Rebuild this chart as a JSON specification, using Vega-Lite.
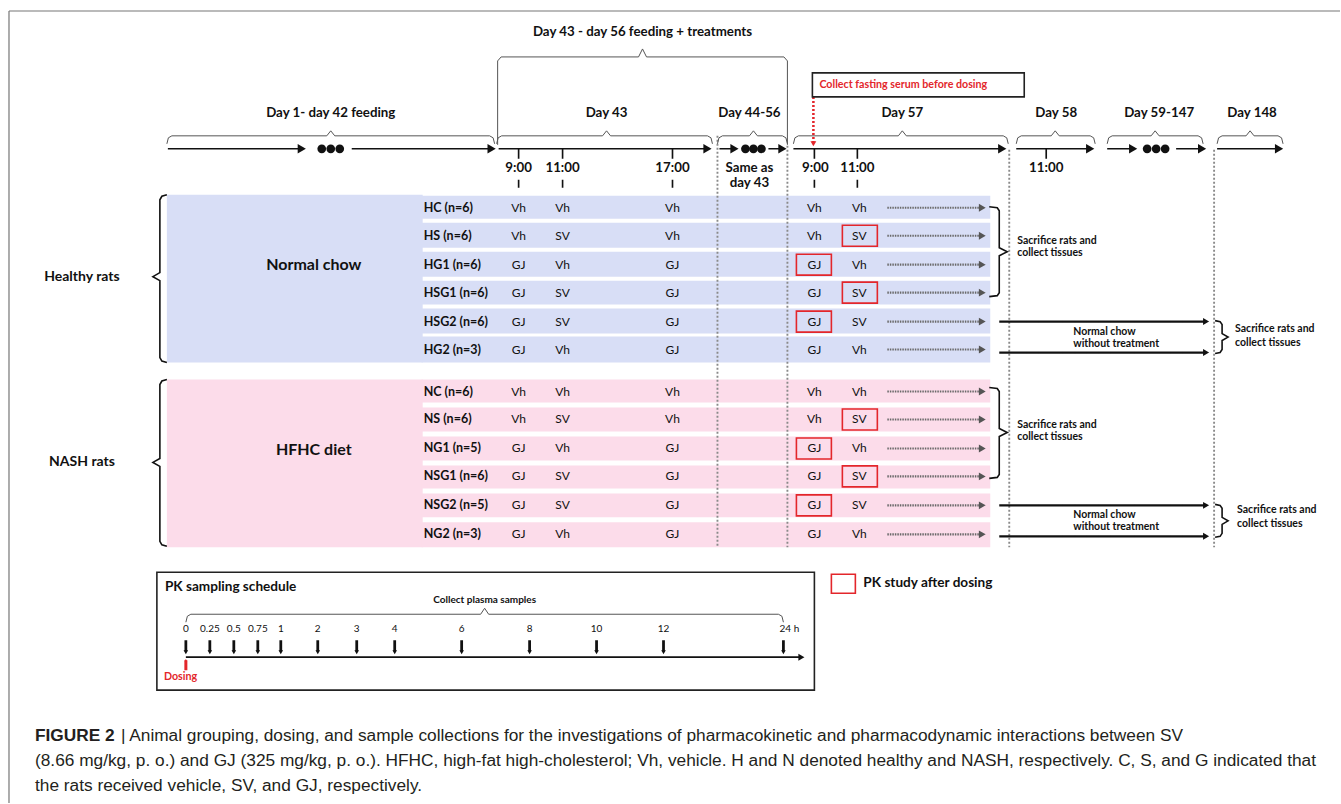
{
"$schema":"https://vega.github.io/schema/vega-lite/v6.json",
"width":1341,"height":804,"padding":0,
"autosize":{"type":"fit","contains":"padding"},
"background":"#ffffff",
"config":{"view":{"stroke":null}},
"datasets":{
"bg":[
{"x":167,"x2":423,"y":195,"y2":363,"g":"h"},
{"x":422,"x2":991,"y":196,"y2":219,"g":"h"},
{"x":422,"x2":991,"y":223,"y2":248,"g":"h"},
{"x":422,"x2":991,"y":252,"y2":277,"g":"h"},
{"x":422,"x2":991,"y":281,"y2":305,"g":"h"},
{"x":422,"x2":991,"y":309,"y2":334,"g":"h"},
{"x":422,"x2":991,"y":337,"y2":363,"g":"h"},
{"x":167,"x2":423,"y":380,"y2":548,"g":"n"},
{"x":422,"x2":991,"y":380,"y2":403,"g":"n"},
{"x":422,"x2":991,"y":408,"y2":432,"g":"n"},
{"x":422,"x2":991,"y":437,"y2":461,"g":"n"},
{"x":422,"x2":991,"y":466,"y2":489,"g":"n"},
{"x":422,"x2":991,"y":494,"y2":518,"g":"n"},
{"x":422,"x2":991,"y":523,"y2":548,"g":"n"}
],
"lines":[
{"x":9,"x2":1341,"y":11,"y2":11,"k":"frame"},
{"x":9,"x2":9,"y":11,"y2":804,"k":"frame"},
{"x":168,"x2":302,"y":149,"y2":149,"k":"thick"},
{"x":352,"x2":492,"y":149,"y2":149,"k":"thick"},
{"x":499,"x2":708,"y":149,"y2":149,"k":"thick"},
{"x":720,"x2":735,"y":149,"y2":149,"k":"thick"},
{"x":769,"x2":783,"y":149,"y2":149,"k":"thick"},
{"x":794,"x2":1003,"y":149,"y2":149,"k":"thick"},
{"x":1017,"x2":1091,"y":149,"y2":149,"k":"thick"},
{"x":1108,"x2":1134,"y":149,"y2":149,"k":"thick"},
{"x":1177,"x2":1203,"y":149,"y2":149,"k":"thick"},
{"x":1218,"x2":1280,"y":149,"y2":149,"k":"thick"},
{"x":519,"x2":519,"y":149,"y2":159,"k":"tick"},
{"x":563,"x2":563,"y":149,"y2":159,"k":"tick"},
{"x":673,"x2":673,"y":149,"y2":159,"k":"tick"},
{"x":815,"x2":815,"y":149,"y2":159,"k":"tick"},
{"x":858,"x2":858,"y":149,"y2":159,"k":"tick"},
{"x":1047,"x2":1047,"y":149,"y2":159,"k":"tick"},
{"x":519,"x2":519,"y":180,"y2":188,"k":"tick"},
{"x":563,"x2":563,"y":180,"y2":188,"k":"tick"},
{"x":673,"x2":673,"y":180,"y2":188,"k":"tick"},
{"x":815,"x2":815,"y":180,"y2":188,"k":"tick"},
{"x":858,"x2":858,"y":180,"y2":188,"k":"tick"},
{"x":718,"x2":718,"y":136,"y2":548,"k":"guide"},
{"x":788,"x2":788,"y":146,"y2":548,"k":"guide"},
{"x":1010,"x2":1010,"y":150,"y2":548,"k":"guide"},
{"x":1215,"x2":1215,"y":150,"y2":548,"k":"guide"},
{"x":888,"x2":982,"y":208,"y2":208,"k":"flow"},
{"x":888,"x2":982,"y":236,"y2":236,"k":"flow"},
{"x":888,"x2":982,"y":265,"y2":265,"k":"flow"},
{"x":888,"x2":982,"y":293,"y2":293,"k":"flow"},
{"x":888,"x2":982,"y":322,"y2":322,"k":"flow"},
{"x":888,"x2":982,"y":350,"y2":350,"k":"flow"},
{"x":888,"x2":982,"y":392,"y2":392,"k":"flow"},
{"x":888,"x2":982,"y":420,"y2":420,"k":"flow"},
{"x":888,"x2":982,"y":449,"y2":449,"k":"flow"},
{"x":888,"x2":982,"y":477,"y2":477,"k":"flow"},
{"x":888,"x2":982,"y":506,"y2":506,"k":"flow"},
{"x":888,"x2":982,"y":535,"y2":535,"k":"flow"},
{"x":1000,"x2":1207,"y":322,"y2":322,"k":"solid"},
{"x":1000,"x2":1207,"y":353,"y2":353,"k":"solid"},
{"x":1000,"x2":1207,"y":506,"y2":506,"k":"solid"},
{"x":1000,"x2":1207,"y":537,"y2":537,"k":"solid"},
{"x":814,"x2":814,"y":97,"y2":143,"k":"reddot"},
{"x":186,"x2":802,"y":658,"y2":658,"k":"tick"},
{"x":186,"x2":186,"y":641,"y2":652,"k":"pk"},
{"x":210,"x2":210,"y":641,"y2":652,"k":"pk"},
{"x":234,"x2":234,"y":641,"y2":652,"k":"pk"},
{"x":258,"x2":258,"y":641,"y2":652,"k":"pk"},
{"x":281,"x2":281,"y":641,"y2":652,"k":"pk"},
{"x":318,"x2":318,"y":641,"y2":652,"k":"pk"},
{"x":357,"x2":357,"y":641,"y2":652,"k":"pk"},
{"x":395,"x2":395,"y":641,"y2":652,"k":"pk"},
{"x":462,"x2":462,"y":641,"y2":652,"k":"pk"},
{"x":530,"x2":530,"y":641,"y2":652,"k":"pk"},
{"x":597,"x2":597,"y":641,"y2":652,"k":"pk"},
{"x":664,"x2":664,"y":641,"y2":652,"k":"pk"},
{"x":784,"x2":784,"y":641,"y2":652,"k":"pk"},
{"x":186,"x2":186,"y":661,"y2":671,"k":"red"}
],
"pts":[
{"x":302,"y":149,"s":"r","k":"big"},
{"x":492,"y":149,"s":"r","k":"big"},
{"x":708,"y":149,"s":"r","k":"big"},
{"x":735,"y":149,"s":"r","k":"big"},
{"x":783,"y":149,"s":"r","k":"big"},
{"x":1003,"y":149,"s":"r","k":"big"},
{"x":1091,"y":149,"s":"r","k":"big"},
{"x":1134,"y":149,"s":"r","k":"big"},
{"x":1203,"y":149,"s":"r","k":"big"},
{"x":1280,"y":149,"s":"r","k":"big"},
{"x":322,"y":149,"s":"c","k":"dot"},
{"x":331,"y":149,"s":"c","k":"dot"},
{"x":340,"y":149,"s":"c","k":"dot"},
{"x":746,"y":149,"s":"c","k":"dot"},
{"x":754,"y":149,"s":"c","k":"dot"},
{"x":762,"y":149,"s":"c","k":"dot"},
{"x":1148,"y":149,"s":"c","k":"dot"},
{"x":1157,"y":149,"s":"c","k":"dot"},
{"x":1166,"y":149,"s":"c","k":"dot"},
{"x":983,"y":208,"s":"r","k":"small"},
{"x":983,"y":236,"s":"r","k":"small"},
{"x":983,"y":265,"s":"r","k":"small"},
{"x":983,"y":293,"s":"r","k":"small"},
{"x":983,"y":322,"s":"r","k":"small"},
{"x":983,"y":350,"s":"r","k":"small"},
{"x":983,"y":392,"s":"r","k":"small"},
{"x":983,"y":420,"s":"r","k":"small"},
{"x":983,"y":449,"s":"r","k":"small"},
{"x":983,"y":477,"s":"r","k":"small"},
{"x":983,"y":506,"s":"r","k":"small"},
{"x":983,"y":535,"s":"r","k":"small"},
{"x":1207,"y":322,"s":"r","k":"med"},
{"x":1207,"y":353,"s":"r","k":"med"},
{"x":1207,"y":506,"s":"r","k":"med"},
{"x":1207,"y":537,"s":"r","k":"med"},
{"x":802,"y":658,"s":"r","k":"med"},
{"x":814,"y":144,"s":"d","k":"reds"},
{"x":186,"y":653,"s":"d","k":"pkd"},
{"x":210,"y":653,"s":"d","k":"pkd"},
{"x":234,"y":653,"s":"d","k":"pkd"},
{"x":258,"y":653,"s":"d","k":"pkd"},
{"x":281,"y":653,"s":"d","k":"pkd"},
{"x":318,"y":653,"s":"d","k":"pkd"},
{"x":357,"y":653,"s":"d","k":"pkd"},
{"x":395,"y":653,"s":"d","k":"pkd"},
{"x":462,"y":653,"s":"d","k":"pkd"},
{"x":530,"y":653,"s":"d","k":"pkd"},
{"x":597,"y":653,"s":"d","k":"pkd"},
{"x":664,"y":653,"s":"d","k":"pkd"},
{"x":784,"y":653,"s":"d","k":"pkd"},
{"x":186,"y":661,"s":"u","k":"red"}
],
"braces":[
{"b":"b1","o":1,"x":167,"y":144,"k":"thin"},{"b":"b1","o":2,"x":168.5,"y":138,"k":"thin"},{"b":"b1","o":3,"x":172,"y":136,"k":"thin"},{"b":"b1","o":4,"x":327,"y":136,"k":"thin"},{"b":"b1","o":5,"x":331,"y":131,"k":"thin"},{"b":"b1","o":6,"x":335,"y":136,"k":"thin"},{"b":"b1","o":7,"x":490,"y":136,"k":"thin"},{"b":"b1","o":8,"x":493.5,"y":138,"k":"thin"},{"b":"b1","o":9,"x":495,"y":144,"k":"thin"},
{"b":"b2","o":1,"x":497,"y":144,"k":"thin"},{"b":"b2","o":2,"x":498.5,"y":138,"k":"thin"},{"b":"b2","o":3,"x":502,"y":136,"k":"thin"},{"b":"b2","o":4,"x":603,"y":136,"k":"thin"},{"b":"b2","o":5,"x":607,"y":131,"k":"thin"},{"b":"b2","o":6,"x":611,"y":136,"k":"thin"},{"b":"b2","o":7,"x":708,"y":136,"k":"thin"},{"b":"b2","o":8,"x":711.5,"y":138,"k":"thin"},{"b":"b2","o":9,"x":713,"y":144,"k":"thin"},
{"b":"b3","o":1,"x":718,"y":144,"k":"thin"},{"b":"b3","o":2,"x":719.5,"y":138,"k":"thin"},{"b":"b3","o":3,"x":723,"y":136,"k":"thin"},{"b":"b3","o":4,"x":750,"y":136,"k":"thin"},{"b":"b3","o":5,"x":754,"y":131,"k":"thin"},{"b":"b3","o":6,"x":758,"y":136,"k":"thin"},{"b":"b3","o":7,"x":783,"y":136,"k":"thin"},{"b":"b3","o":8,"x":786.5,"y":138,"k":"thin"},{"b":"b3","o":9,"x":788,"y":144,"k":"thin"},
{"b":"b4","o":1,"x":794,"y":144,"k":"thin"},{"b":"b4","o":2,"x":795.5,"y":138,"k":"thin"},{"b":"b4","o":3,"x":799,"y":136,"k":"thin"},{"b":"b4","o":4,"x":899,"y":136,"k":"thin"},{"b":"b4","o":5,"x":903,"y":131,"k":"thin"},{"b":"b4","o":6,"x":907,"y":136,"k":"thin"},{"b":"b4","o":7,"x":1004,"y":136,"k":"thin"},{"b":"b4","o":8,"x":1007.5,"y":138,"k":"thin"},{"b":"b4","o":9,"x":1009,"y":144,"k":"thin"},
{"b":"b5","o":1,"x":1017,"y":144,"k":"thin"},{"b":"b5","o":2,"x":1018.5,"y":138,"k":"thin"},{"b":"b5","o":3,"x":1022,"y":136,"k":"thin"},{"b":"b5","o":4,"x":1052,"y":136,"k":"thin"},{"b":"b5","o":5,"x":1056,"y":131,"k":"thin"},{"b":"b5","o":6,"x":1060,"y":136,"k":"thin"},{"b":"b5","o":7,"x":1091,"y":136,"k":"thin"},{"b":"b5","o":8,"x":1094.5,"y":138,"k":"thin"},{"b":"b5","o":9,"x":1096,"y":144,"k":"thin"},
{"b":"b6","o":1,"x":1108,"y":144,"k":"thin"},{"b":"b6","o":2,"x":1109.5,"y":138,"k":"thin"},{"b":"b6","o":3,"x":1113,"y":136,"k":"thin"},{"b":"b6","o":4,"x":1152,"y":136,"k":"thin"},{"b":"b6","o":5,"x":1156,"y":131,"k":"thin"},{"b":"b6","o":6,"x":1160,"y":136,"k":"thin"},{"b":"b6","o":7,"x":1199,"y":136,"k":"thin"},{"b":"b6","o":8,"x":1202.5,"y":138,"k":"thin"},{"b":"b6","o":9,"x":1204,"y":144,"k":"thin"},
{"b":"b7","o":1,"x":1218,"y":144,"k":"thin"},{"b":"b7","o":2,"x":1219.5,"y":138,"k":"thin"},{"b":"b7","o":3,"x":1223,"y":136,"k":"thin"},{"b":"b7","o":4,"x":1247,"y":136,"k":"thin"},{"b":"b7","o":5,"x":1251,"y":131,"k":"thin"},{"b":"b7","o":6,"x":1255,"y":136,"k":"thin"},{"b":"b7","o":7,"x":1279,"y":136,"k":"thin"},{"b":"b7","o":8,"x":1282.5,"y":138,"k":"thin"},{"b":"b7","o":9,"x":1284,"y":144,"k":"thin"},
{"b":"b8","o":1,"x":498,"y":145,"k":"thin"},{"b":"b8","o":2,"x":498,"y":61,"k":"thin"},{"b":"b8","o":3,"x":501.5,"y":57,"k":"thin"},{"b":"b8","o":4,"x":639,"y":57,"k":"thin"},{"b":"b8","o":5,"x":643,"y":49,"k":"thin"},{"b":"b8","o":6,"x":647,"y":57,"k":"thin"},{"b":"b8","o":7,"x":784.5,"y":57,"k":"thin"},{"b":"b8","o":8,"x":788,"y":61,"k":"thin"},{"b":"b8","o":9,"x":788,"y":145,"k":"thin"},
{"b":"b9","o":1,"x":186,"y":623,"k":"thin"},{"b":"b9","o":2,"x":187.5,"y":617,"k":"thin"},{"b":"b9","o":3,"x":191,"y":615,"k":"thin"},{"b":"b9","o":4,"x":481,"y":615,"k":"thin"},{"b":"b9","o":5,"x":485,"y":609,"k":"thin"},{"b":"b9","o":6,"x":489,"y":615,"k":"thin"},{"b":"b9","o":7,"x":779,"y":615,"k":"thin"},{"b":"b9","o":8,"x":782.5,"y":617,"k":"thin"},{"b":"b9","o":9,"x":784,"y":623,"k":"thin"},
{"b":"L1","o":1,"x":167,"y":195,"k":"bold"},{"b":"L1","o":2,"x":162,"y":196.5,"k":"bold"},{"b":"L1","o":3,"x":160,"y":200,"k":"bold"},{"b":"L1","o":4,"x":160,"y":273,"k":"bold"},{"b":"L1","o":5,"x":153,"y":277,"k":"bold"},{"b":"L1","o":6,"x":160,"y":281,"k":"bold"},{"b":"L1","o":7,"x":160,"y":358,"k":"bold"},{"b":"L1","o":8,"x":162,"y":361.5,"k":"bold"},{"b":"L1","o":9,"x":167,"y":363,"k":"bold"},
{"b":"L2","o":1,"x":167,"y":380,"k":"bold"},{"b":"L2","o":2,"x":162,"y":381.5,"k":"bold"},{"b":"L2","o":3,"x":160,"y":385,"k":"bold"},{"b":"L2","o":4,"x":160,"y":459,"k":"bold"},{"b":"L2","o":5,"x":153,"y":463,"k":"bold"},{"b":"L2","o":6,"x":160,"y":467,"k":"bold"},{"b":"L2","o":7,"x":160,"y":542,"k":"bold"},{"b":"L2","o":8,"x":162,"y":545.5,"k":"bold"},{"b":"L2","o":9,"x":167,"y":547,"k":"bold"},
{"b":"R1","o":1,"x":990,"y":207,"k":"bold"},{"b":"R1","o":2,"x":998,"y":208,"k":"bold"},{"b":"R1","o":3,"x":1000,"y":211,"k":"bold"},{"b":"R1","o":4,"x":1000,"y":248,"k":"bold"},{"b":"R1","o":5,"x":1008,"y":252,"k":"bold"},{"b":"R1","o":6,"x":1000,"y":256,"k":"bold"},{"b":"R1","o":7,"x":1000,"y":293,"k":"bold"},{"b":"R1","o":8,"x":998,"y":296,"k":"bold"},{"b":"R1","o":9,"x":990,"y":297,"k":"bold"},
{"b":"R2","o":1,"x":1216,"y":321,"k":"bold"},{"b":"R2","o":2,"x":1221,"y":322,"k":"bold"},{"b":"R2","o":3,"x":1223,"y":325,"k":"bold"},{"b":"R2","o":4,"x":1223,"y":334,"k":"bold"},{"b":"R2","o":5,"x":1229,"y":337.5,"k":"bold"},{"b":"R2","o":6,"x":1223,"y":341,"k":"bold"},{"b":"R2","o":7,"x":1223,"y":350,"k":"bold"},{"b":"R2","o":8,"x":1221,"y":353,"k":"bold"},{"b":"R2","o":9,"x":1216,"y":354,"k":"bold"},
{"b":"R3","o":1,"x":990,"y":388,"k":"bold"},{"b":"R3","o":2,"x":998,"y":389,"k":"bold"},{"b":"R3","o":3,"x":1000,"y":392,"k":"bold"},{"b":"R3","o":4,"x":1000,"y":429,"k":"bold"},{"b":"R3","o":5,"x":1008,"y":433,"k":"bold"},{"b":"R3","o":6,"x":1000,"y":437,"k":"bold"},{"b":"R3","o":7,"x":1000,"y":475,"k":"bold"},{"b":"R3","o":8,"x":998,"y":478,"k":"bold"},{"b":"R3","o":9,"x":990,"y":479,"k":"bold"},
{"b":"R4","o":1,"x":1216,"y":505,"k":"bold"},{"b":"R4","o":2,"x":1221,"y":506,"k":"bold"},{"b":"R4","o":3,"x":1223,"y":509,"k":"bold"},{"b":"R4","o":4,"x":1223,"y":518,"k":"bold"},{"b":"R4","o":5,"x":1229,"y":521.5,"k":"bold"},{"b":"R4","o":6,"x":1223,"y":525,"k":"bold"},{"b":"R4","o":7,"x":1223,"y":534,"k":"bold"},{"b":"R4","o":8,"x":1221,"y":537,"k":"bold"},{"b":"R4","o":9,"x":1216,"y":538,"k":"bold"}
],
"boxes":[
{"x":813,"x2":1025,"y":73,"y2":97,"k":"blk"},
{"x":157,"x2":815,"y":573,"y2":691,"k":"blk"},
{"x":843,"x2":878,"y":225.5,"y2":246.5,"k":"red"},
{"x":843,"x2":878,"y":282.5,"y2":303.5,"k":"red"},
{"x":797,"x2":832,"y":254.5,"y2":275.5,"k":"red"},
{"x":797,"x2":832,"y":311.5,"y2":332.5,"k":"red"},
{"x":843,"x2":878,"y":409.5,"y2":430.5,"k":"red"},
{"x":843,"x2":878,"y":466.5,"y2":487.5,"k":"red"},
{"x":797,"x2":832,"y":438.5,"y2":459.5,"k":"red"},
{"x":797,"x2":832,"y":495.5,"y2":516.5,"k":"red"},
{"x":832,"x2":856,"y":575,"y2":594,"k":"red"}
],
"txt":[
{"t":"Day 43 - day 56 feeding + treatments","x":643,"y":32,"r":"day"},
{"t":"Day 1- day 42 feeding","x":331,"y":113,"r":"day"},
{"t":"Day 43","x":607,"y":113,"r":"day"},
{"t":"Day 44-56","x":750,"y":113,"r":"day"},
{"t":"Day 57","x":903,"y":113,"r":"day"},
{"t":"Day 58","x":1057,"y":113,"r":"day"},
{"t":"Day 59-147","x":1160,"y":113,"r":"day"},
{"t":"Day 148","x":1253,"y":113,"r":"day"},
{"t":"9:00","x":519,"y":168,"r":"day"},
{"t":"11:00","x":563,"y":168,"r":"day"},
{"t":"17:00","x":673,"y":168,"r":"day"},
{"t":"Same as","x":750,"y":168,"r":"day"},
{"t":"day 43","x":750,"y":183,"r":"day"},
{"t":"9:00","x":816,"y":168,"r":"day"},
{"t":"11:00","x":858,"y":168,"r":"day"},
{"t":"11:00","x":1047,"y":168,"r":"day"},
{"t":"Healthy rats","x":82,"y":277,"r":"rat"},
{"t":"NASH rats","x":82,"y":463,"r":"rat"},
{"t":"HC (n=6)","x":424,"y":208,"r":"grp"},
{"t":"HS (n=6)","x":424,"y":236,"r":"grp"},
{"t":"HG1 (n=6)","x":424,"y":265,"r":"grp"},
{"t":"HSG1 (n=6)","x":424,"y":293,"r":"grp"},
{"t":"HSG2 (n=6)","x":424,"y":322,"r":"grp"},
{"t":"HG2 (n=3)","x":424,"y":350,"r":"grp"},
{"t":"NC (n=6)","x":424,"y":392,"r":"grp"},
{"t":"NS (n=6)","x":424,"y":420,"r":"grp"},
{"t":"NG1 (n=5)","x":424,"y":449,"r":"grp"},
{"t":"NSG1 (n=6)","x":424,"y":477,"r":"grp"},
{"t":"NSG2 (n=5)","x":424,"y":506,"r":"grp"},
{"t":"NG2 (n=3)","x":424,"y":535,"r":"grp"},
{"t":"Vh","x":519,"y":208,"r":"cell"},{"t":"Vh","x":563,"y":208,"r":"cell"},{"t":"Vh","x":673,"y":208,"r":"cell"},{"t":"Vh","x":815,"y":208,"r":"cell"},{"t":"Vh","x":860,"y":208,"r":"cell"},
{"t":"Vh","x":519,"y":236,"r":"cell"},{"t":"SV","x":563,"y":236,"r":"cell"},{"t":"Vh","x":673,"y":236,"r":"cell"},{"t":"Vh","x":815,"y":236,"r":"cell"},{"t":"SV","x":860,"y":236,"r":"cell"},
{"t":"GJ","x":519,"y":265,"r":"cell"},{"t":"Vh","x":563,"y":265,"r":"cell"},{"t":"GJ","x":673,"y":265,"r":"cell"},{"t":"GJ","x":815,"y":265,"r":"cell"},{"t":"Vh","x":860,"y":265,"r":"cell"},
{"t":"GJ","x":519,"y":293,"r":"cell"},{"t":"SV","x":563,"y":293,"r":"cell"},{"t":"GJ","x":673,"y":293,"r":"cell"},{"t":"GJ","x":815,"y":293,"r":"cell"},{"t":"SV","x":860,"y":293,"r":"cell"},
{"t":"GJ","x":519,"y":322,"r":"cell"},{"t":"SV","x":563,"y":322,"r":"cell"},{"t":"GJ","x":673,"y":322,"r":"cell"},{"t":"GJ","x":815,"y":322,"r":"cell"},{"t":"SV","x":860,"y":322,"r":"cell"},
{"t":"GJ","x":519,"y":350,"r":"cell"},{"t":"Vh","x":563,"y":350,"r":"cell"},{"t":"GJ","x":673,"y":350,"r":"cell"},{"t":"GJ","x":815,"y":350,"r":"cell"},{"t":"Vh","x":860,"y":350,"r":"cell"},
{"t":"Vh","x":519,"y":392,"r":"cell"},{"t":"Vh","x":563,"y":392,"r":"cell"},{"t":"Vh","x":673,"y":392,"r":"cell"},{"t":"Vh","x":815,"y":392,"r":"cell"},{"t":"Vh","x":860,"y":392,"r":"cell"},
{"t":"Vh","x":519,"y":420,"r":"cell"},{"t":"SV","x":563,"y":420,"r":"cell"},{"t":"Vh","x":673,"y":420,"r":"cell"},{"t":"Vh","x":815,"y":420,"r":"cell"},{"t":"SV","x":860,"y":420,"r":"cell"},
{"t":"GJ","x":519,"y":449,"r":"cell"},{"t":"Vh","x":563,"y":449,"r":"cell"},{"t":"GJ","x":673,"y":449,"r":"cell"},{"t":"GJ","x":815,"y":449,"r":"cell"},{"t":"Vh","x":860,"y":449,"r":"cell"},
{"t":"GJ","x":519,"y":477,"r":"cell"},{"t":"SV","x":563,"y":477,"r":"cell"},{"t":"GJ","x":673,"y":477,"r":"cell"},{"t":"GJ","x":815,"y":477,"r":"cell"},{"t":"SV","x":860,"y":477,"r":"cell"},
{"t":"GJ","x":519,"y":506,"r":"cell"},{"t":"SV","x":563,"y":506,"r":"cell"},{"t":"GJ","x":673,"y":506,"r":"cell"},{"t":"GJ","x":815,"y":506,"r":"cell"},{"t":"SV","x":860,"y":506,"r":"cell"},
{"t":"GJ","x":519,"y":535,"r":"cell"},{"t":"Vh","x":563,"y":535,"r":"cell"},{"t":"GJ","x":673,"y":535,"r":"cell"},{"t":"GJ","x":815,"y":535,"r":"cell"},{"t":"Vh","x":860,"y":535,"r":"cell"},
{"t":"Sacrifice rats and","x":1018,"y":241,"r":"note"},
{"t":"collect tissues","x":1018,"y":253,"r":"note"},
{"t":"Normal chow","x":1074,"y":332,"r":"note"},
{"t":"without treatment","x":1074,"y":344,"r":"note"},
{"t":"Sacrifice rats and","x":1236,"y":329,"r":"note"},
{"t":"collect tissues","x":1236,"y":343,"r":"note"},
{"t":"Sacrifice rats and","x":1018,"y":426,"r":"note"},
{"t":"collect tissues","x":1018,"y":438,"r":"note"},
{"t":"Normal chow","x":1074,"y":516,"r":"note"},
{"t":"without treatment","x":1074,"y":528,"r":"note"},
{"t":"Sacrifice rats and","x":1238,"y":511,"r":"note"},
{"t":"collect tissues","x":1238,"y":525,"r":"note"},
{"t":"Normal chow","x":314,"y":265,"r":"big"},
{"t":"HFHC diet","x":314,"y":451,"r":"big"},
{"t":"Collect fasting serum before dosing","x":820,"y":85,"r":"redt"},
{"t":"Dosing","x":164,"y":678,"r":"redt"},
{"t":"PK sampling schedule","x":165,"y":588,"r":"pkt"},
{"t":"PK study after dosing","x":864,"y":584,"r":"pkt"},
{"t":"Collect plasma samples","x":485,"y":601,"r":"pks"},
{"t":"0","x":186,"y":630,"r":"pkn"},
{"t":"0.25","x":210,"y":630,"r":"pkn"},
{"t":"0.5","x":234,"y":630,"r":"pkn"},
{"t":"0.75","x":258,"y":630,"r":"pkn"},
{"t":"1","x":281,"y":630,"r":"pkn"},
{"t":"2","x":318,"y":630,"r":"pkn"},
{"t":"3","x":357,"y":630,"r":"pkn"},
{"t":"4","x":395,"y":630,"r":"pkn"},
{"t":"6","x":462,"y":630,"r":"pkn"},
{"t":"8","x":530,"y":630,"r":"pkn"},
{"t":"10","x":597,"y":630,"r":"pkn"},
{"t":"12","x":664,"y":630,"r":"pkn"},
{"t":"24 h","x":790,"y":630,"r":"pkn"},
{"t":"FIGURE 2","x":35,"y":737,"r":"capb"},
{"t":"| Animal grouping, dosing, and sample collections for the investigations of pharmacokinetic and pharmacodynamic interactions between SV","x":121,"y":737,"r":"cap"},
{"t":"(8.66 mg/kg, p. o.) and GJ (325 mg/kg, p. o.). HFHC, high-fat high-cholesterol; Vh, vehicle. H and N denoted healthy and NASH, respectively. C, S, and G indicated that","x":35,"y":762,"r":"cap"},
{"t":"the rats received vehicle, SV, and GJ, respectively.","x":35,"y":787,"r":"cap"}
]
},
"encoding":{
"x":{"field":"x","type":"quantitative","scale":{"domain":[0,1341],"nice":false,"zero":false},"axis":null},
"y":{"field":"y","type":"quantitative","scale":{"domain":[0,804],"nice":false,"zero":false,"reverse":true},"axis":null}
},
"layer":[
{"data":{"name":"bg"},"mark":{"type":"rect"},
 "encoding":{"x2":{"field":"x2"},"y2":{"field":"y2"},
 "color":{"field":"g","type":"nominal","scale":{"domain":["h","n"],"range":["#d8def6","#fcdcea"]},"legend":null}}},
{"data":{"name":"lines"},"mark":{"type":"rule"},
 "encoding":{"x2":{"field":"x2"},"y2":{"field":"y2"},
 "color":{"field":"k","type":"nominal","scale":{"domain":["frame","thick","tick","guide","flow","solid","reddot","pk","red"],"range":["#777777","#111111","#111111","#8a8a8a","#6a6a6a","#111111","#e3262b","#111111","#e3262b"]},"legend":null},
 "strokeWidth":{"field":"k","type":"ordinal","scale":{"domain":["frame","thick","tick","guide","flow","solid","reddot","pk","red"],"range":[1.2,3,1.6,1,0.6,1.4,1,1.2,1.4]},"legend":null},
 "strokeDash":{"field":"k","type":"nominal","scale":{"domain":["frame","thick","tick","guide","flow","solid","reddot","pk","red"],"range":[[1,0],[1,0],[1,0],[2,2],[1.5,1],[1,0],[2,2],[1,0],[1,0]]},"legend":null}}},
{"data":{"name":"braces"},"mark":{"type":"line","interpolate":"linear"},
 "encoding":{"detail":{"field":"b"},"order":{"field":"o","type":"quantitative"},
 "color":{"field":"k","type":"nominal","scale":{"domain":["thin","bold"],"range":["#555555","#111111"]},"legend":null},
 "strokeWidth":{"field":"k","type":"ordinal","scale":{"domain":["thin","bold"],"range":[1,1.6]},"legend":null}}},
{"data":{"name":"boxes"},"mark":{"type":"rect","filled":false,"strokeWidth":1.6},
 "encoding":{"x2":{"field":"x2"},"y2":{"field":"y2"},
 "color":{"field":"k","type":"nominal","scale":{"domain":["blk","red"],"range":["#222222","#e3262b"]},"legend":null}}},
{"data":{"name":"pts"},"mark":{"type":"point","filled":true,"opacity":1,"strokeWidth":0},
 "encoding":{
 "shape":{"field":"s","type":"nominal","scale":{"domain":["r","d","u","c"],"range":["triangle-right","triangle-down","triangle-up","circle"]},"legend":null},
 "size":{"field":"k","type":"ordinal","scale":{"domain":["big","dot","small","med","reds","pkd","red"],"range":[90,7,12,38,20,34,30]},"legend":null},
 "color":{"field":"k","type":"nominal","scale":{"domain":["big","dot","small","med","reds","pkd","red"],"range":["#111111","#111111","#555555","#111111","#e3262b","#111111","#e3262b"]},"legend":null}}},
{"data":{"name":"txt"},"transform":[{"filter":"datum.r==='day'"}],"mark":{"type":"text","font":"Lato","fontWeight":"bold","fontSize":13.3,"align":"center","baseline":"middle","color":"#111111"},"encoding":{"text":{"field":"t"}}},
{"data":{"name":"txt"},"transform":[{"filter":"datum.r==='rat'"}],"mark":{"type":"text","font":"Lato","fontWeight":"bold","fontSize":14,"align":"center","baseline":"middle","color":"#111111"},"encoding":{"text":{"field":"t"}}},
{"data":{"name":"txt"},"transform":[{"filter":"datum.r==='grp'"}],"mark":{"type":"text","font":"Lato","fontWeight":"bold","fontSize":12.5,"align":"left","baseline":"middle","color":"#111111"},"encoding":{"text":{"field":"t"}}},
{"data":{"name":"txt"},"transform":[{"filter":"datum.r==='cell'"}],"mark":{"type":"text","font":"Lato","fontSize":12,"align":"center","baseline":"middle","color":"#111111"},"encoding":{"text":{"field":"t"}}},
{"data":{"name":"txt"},"transform":[{"filter":"datum.r==='note'"}],"mark":{"type":"text","font":"Lato","fontWeight":"bold","fontSize":10.5,"align":"left","baseline":"middle","color":"#111111"},"encoding":{"text":{"field":"t"}}},
{"data":{"name":"txt"},"transform":[{"filter":"datum.r==='big'"}],"mark":{"type":"text","font":"Lato","fontWeight":"bold","fontSize":16,"align":"center","baseline":"middle","color":"#111111"},"encoding":{"text":{"field":"t"}}},
{"data":{"name":"txt"},"transform":[{"filter":"datum.r==='redt'"}],"mark":{"type":"text","font":"Lato","fontWeight":"bold","fontSize":10.7,"align":"left","baseline":"middle","color":"#e3262b"},"encoding":{"text":{"field":"t"}}},
{"data":{"name":"txt"},"transform":[{"filter":"datum.r==='pkt'"}],"mark":{"type":"text","font":"Lato","fontWeight":"bold","fontSize":13.6,"align":"left","baseline":"middle","color":"#111111"},"encoding":{"text":{"field":"t"}}},
{"data":{"name":"txt"},"transform":[{"filter":"datum.r==='pks'"}],"mark":{"type":"text","font":"Lato","fontWeight":"bold","fontSize":10,"align":"center","baseline":"middle","color":"#111111"},"encoding":{"text":{"field":"t"}}},
{"data":{"name":"txt"},"transform":[{"filter":"datum.r==='pkn'"}],"mark":{"type":"text","font":"Lato","fontSize":10,"align":"center","baseline":"middle","color":"#111111"},"encoding":{"text":{"field":"t"}}},
{"data":{"name":"txt"},"transform":[{"filter":"datum.r==='capb'"}],"mark":{"type":"text","font":"Liberation Sans","fontWeight":"bold","fontSize":17.3,"align":"left","baseline":"middle","color":"#231f20"},"encoding":{"text":{"field":"t"}}},
{"data":{"name":"txt"},"transform":[{"filter":"datum.r==='cap'"}],"mark":{"type":"text","font":"Liberation Sans","fontSize":17.3,"align":"left","baseline":"middle","color":"#231f20"},"encoding":{"text":{"field":"t"}}}
],
"resolve":{"scale":{"color":"independent","size":"independent","shape":"independent","strokeWidth":"independent","strokeDash":"independent"}}
}
